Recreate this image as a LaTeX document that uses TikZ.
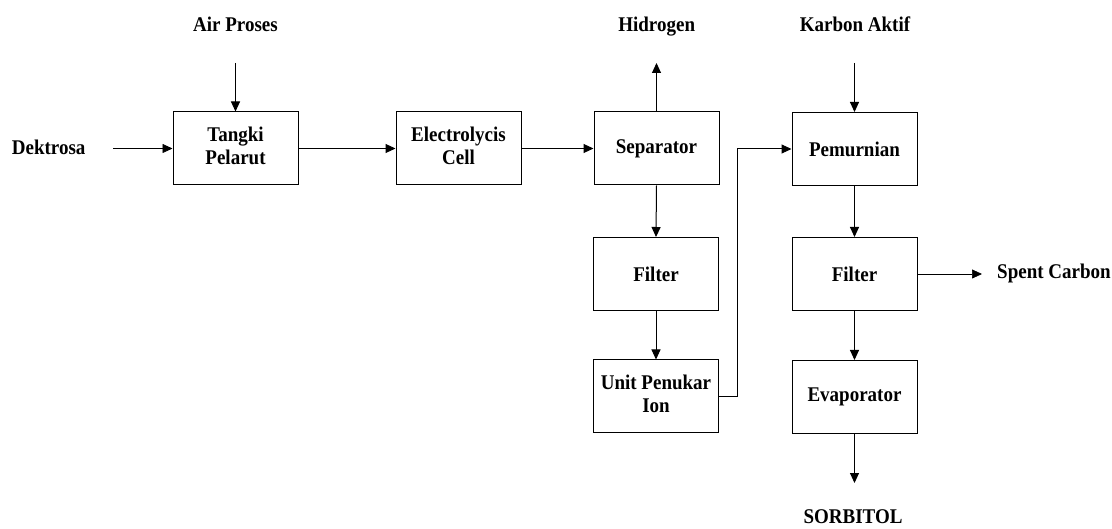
\documentclass[tikz,border=0pt]{standalone}
\usepackage{graphicx}
\usepackage{fontspec}
\setmainfont{Liberation Serif}
\usetikzlibrary{arrows.meta}
\newcommand{\txone}[1]{\scalebox{1}[1.1]{#1}}
\newcommand{\txtwo}[1]{\scalebox{1}[1.1]{\begin{tabular}{@{}c@{}}#1\end{tabular}}}
\begin{document}
\begin{tikzpicture}[x=1pt,y=-1pt,
  box/.style={draw, line width=1pt, minimum width=125pt, minimum height=73pt, inner sep=0pt, font=\bfseries\fontsize{19}{21}\selectfont},
  lab/.style={inner sep=0pt, font=\bfseries\fontsize{19}{21}\selectfont},
  flow/.style={line width=1pt, -{Triangle[length=10pt,width=9pt]}},
  thinflow/.style={flow, line width=0.7pt}]
\useasboundingbox (0,0) rectangle (1112,529);

\node[box] (tank) at (235.5,148.5) {\txtwo{Tangki\\Pelarut}};
\node[box] (elec) at (458.5,148.5) {\txtwo{Electrolycis\\Cell}};
\node[box] (sep)  at (656.5,148.5) {\txone{Separator}};
\node[box] (pem)  at (854.5,149) {\txone{Pemurnian}};
\node[box] (f1)   at (656,274) {\txone{Filter}};
\node[box] (ion)  at (656,396.5) {\txtwo{Unit Penukar\\Ion}};
\node[box] (f2)   at (854.5,274) {\txone{Filter}};
\node[box] (evap) at (854.5,397) {\txone{Evaporator}};

\node[lab, anchor=base] (air) at (235.5,31.7) {\txone{Air Proses}};
\node[lab, anchor=base west] (dek) at (11.7,155) {\txone{Dektrosa}};
\node[lab, anchor=base] (hid) at (656.7,31.7) {\txone{Hidrogen}};
\node[lab, anchor=base] (kar) at (855,32) {\txone{Karbon Aktif}};
\node[lab, anchor=base] (sor) at (853,523.5) {\txone{SORBITOL}};
\node[lab, anchor=base west] (spc) at (997,279) {\txone{Spent Carbon}};

\coordinate (airS) at (235.5,63);
\coordinate (dekS) at (113,148.5);
\coordinate (hidE) at (656.5,63);
\coordinate (karS) at (854.5,63);
\coordinate (sorE) at (854.5,483);
\coordinate (spE) at (982,274);

\draw[flow] (airS) -- (tank.north);
\draw[thinflow] (dekS) -- (tank.west);
\draw[flow] (tank.east) -- (elec.west);
\draw[flow] (elec.east) -- (sep.west);
\draw[flow] (sep.north) -- (hidE);
\draw[flow] (sep.south) -- (f1.north);
\draw[flow] (f1.south) -- (ion.north);
\draw[flow] (ion.east) -- ++(18,0) |- (pem.west);
\draw[flow] (karS) -- (pem.north);
\draw[flow] (pem.south) -- (f2.north);
\draw[flow] (f2.south) -- (evap.north);
\draw[flow] (evap.south) -- (sorE);
\draw[thinflow] (f2.east) -- (spE);
\end{tikzpicture}
\end{document}
